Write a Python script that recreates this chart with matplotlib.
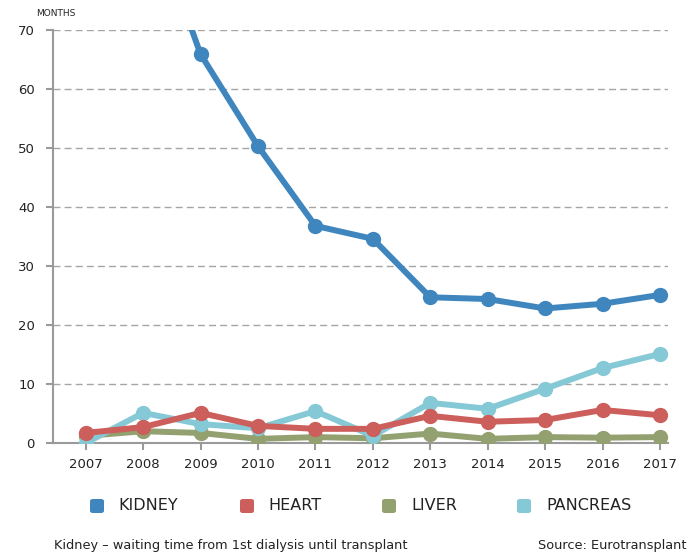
import matplotlib
matplotlib.use("Agg")
import matplotlib.pyplot as plt
from matplotlib.patches import FancyBboxPatch

years    = [2007, 2008, 2009, 2010, 2011, 2012, 2013, 2014, 2015, 2016, 2017]
kidney   = [95.0, 93.0, 65.9, 50.3, 36.8, 34.6, 24.7, 24.4, 22.8, 23.6, 25.1]
heart    = [1.7, 2.7, 5.1, 2.9, 2.4, 2.4, 4.6, 3.6, 3.9, 5.6, 4.7]
liver    = [1.2, 2.0, 1.7, 0.7, 1.0, 0.8, 1.6, 0.7, 1.0, 0.9, 1.0]
pancreas = [0.0, 5.1, 3.2, 2.5, 5.4, 1.2, 6.8, 5.8, 9.2, 12.7, 15.1]

names  = ["KIDNEY", "HEART", "LIVER", "PANCREAS"]
colors = ["#3f86bf", "#cc5e5b", "#93a070", "#86c9d6"]

W, H = 688, 557
fig = plt.figure(figsize=(W / 100, H / 100), dpi=100)
ax = fig.add_axes([53 / W, 1 - 443 / H, (668 - 53) / W, (443 - 30) / H])

series = {"KIDNEY": kidney, "HEART": heart, "LIVER": liver, "PANCREAS": pancreas}
zorders = {"LIVER": 3, "PANCREAS": 4, "HEART": 5, "KIDNEY": 6}
for name, col in zip(names, colors):
    ax.plot(years, series[name], color=col, lw=4.3, marker="o", ms=10,
            solid_capstyle="round", zorder=zorders[name], clip_on=True)

ax.set_xlim(2006.43, 2017.14)
ax.set_ylim(0, 70)
ax.set_yticks(range(0, 71, 10))
ax.set_xticks(years)
ax.grid(axis="y", color="#a5a5a5", ls=(0, (5, 3)), lw=1)
ax.set_axisbelow(True)
for s in ["top", "right"]:
    ax.spines[s].set_visible(False)
for s in ["left", "bottom"]:
    ax.spines[s].set_color("#9a9a9a")
    ax.spines[s].set_linewidth(1.5)
ax.tick_params(axis="y", colors="#9a9a9a", length=5, width=1.5, labelcolor="#222222",
               labelsize=9.5, pad=8)
ax.tick_params(axis="x", colors="#9a9a9a", length=5, width=1.5, labelcolor="#222222",
               labelsize=9.5, pad=6)

fig.text(36 / W, 1 - 13 / H, "MONTHS", fontsize=6.5, color="#222222", va="center")

# legend
patch_x = [90, 240, 382, 517]
label_x = [118, 268, 411, 546]
ly = 1 - 506 / H
for px, tx, name, col in zip(patch_x, label_x, names, colors):
    fig.patches.append(FancyBboxPatch((px / W, ly - 7 / H), 14 / W, 14 / H,
                                      boxstyle="round,pad=0,rounding_size=0.004",
                                      transform=fig.transFigure, facecolor=col,
                                      edgecolor="none"))
    fig.text(tx / W, ly, name, fontsize=11.5, color="#222222", va="center")

fig.text(54 / W, 1 - 546 / H, "Kidney \u2013 waiting time from 1st dialysis until transplant",
         fontsize=9.3, color="#222222", va="center")
fig.text(686 / W, 1 - 546 / H, "Source: Eurotransplant", fontsize=9.3, color="#222222",
         va="center", ha="right")

fig.savefig("out.png", dpi=100)
